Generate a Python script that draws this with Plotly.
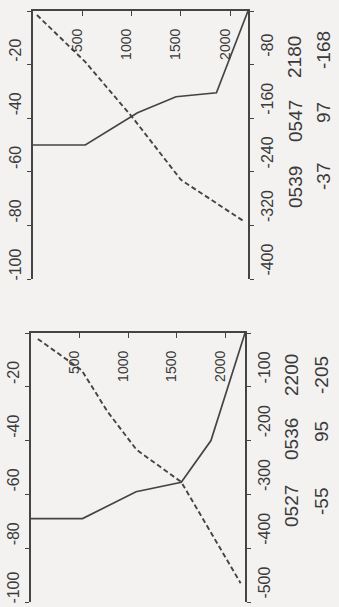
import plotly.graph_objects as go

W, H = 339, 607

# ---- data ----
top_solid_depth = [0, 530, 1060, 1450, 1860, 2000, 2180]
top_solid = [-50, -50, -38, -32, -30.5, -17, 0]
top_dash_depth = [40, 530, 1015, 1500, 2150]
top_dash = [-6, -76, -160, -252, -315]

bot_solid_depth = [0, 530, 1080, 1545, 1850, 2200]
bot_solid = [-69, -69, -59, -55.5, -40, 0]
bot_dash_depth = [70, 520, 790, 1085, 1545, 2155]
bot_dash = [-11, -69, -147, -217, -277, -465]

depth_ticks = [500, 1000, 1500, 2000]
left_ticks = [-100, -80, -60, -40, -20, 0]
left_text = ["-100", "-80", "-60", "-40", "-20", ""]
top_right_ticks = [-400, -320, -240, -160, -80, 0]
top_right_text = ["-400", "-320", "-240", "-160", "-80", ""]
bot_right_ticks = [-500, -400, -300, -200, -100, 0]
bot_right_text = ["-500", "-400", "-300", "-200", "-100", ""]

top_ids = ["0539", "0547", "2180"]
top_vals = ["-37", "97", "-168"]
bot_ids = ["0527", "0536", "2200"]
bot_vals = ["-55", "95", "-205"]

INK = "#444444"
TXT = "#3a3a3a"
BG = "#f3f2f0"
FONT = "Liberation Sans"

def px(x):
    return x / W

def py(y):
    return 1 - y / H

fig = go.Figure()
solid = dict(color=INK, width=1.7)
dashed = dict(color=INK, width=1.9, dash="5px,3px")
fig.add_trace(go.Scatter(x=top_solid_depth, y=top_solid, mode="lines", line=solid, xaxis="x", yaxis="y"))
fig.add_trace(go.Scatter(x=top_dash_depth, y=top_dash, mode="lines", line=dashed, xaxis="x", yaxis="y2"))
fig.add_trace(go.Scatter(x=bot_solid_depth, y=bot_solid, mode="lines", line=solid, xaxis="x2", yaxis="y3"))
fig.add_trace(go.Scatter(x=bot_dash_depth, y=bot_dash, mode="lines", line=dashed, xaxis="x2", yaxis="y4"))

def xaxis(dom, anchor, maxd):
    return dict(domain=dom, anchor=anchor, range=[0, maxd], side="top", automargin=False,
                showline=True, linecolor=INK, linewidth=1.7, showgrid=False, zeroline=False,
                ticks="inside", ticklen=5, tickwidth=1.4, tickcolor=INK,
                tickvals=depth_ticks, ticklabelposition="inside", tickangle=-90,
                ticklabelshift=-5, ticklabelstandoff=5, ticklabeloverflow="allow",
                tickfont=dict(family=FONT, size=14, color=TXT))

def yaxis(dom, anchor, rng, vals, text, side, shift, overlay=None):
    d = dict(domain=dom, anchor=anchor, range=rng, side=side, automargin=False,
             showline=True, linecolor=INK, linewidth=1.7, showgrid=False, zeroline=False,
             ticks="outside", ticklen=4, tickwidth=1.4, tickcolor=INK,
             tickvals=vals, ticktext=text, tickangle=-90, ticklabelshift=shift,
             ticklabelstandoff=0, ticklabeloverflow="allow",
             tickfont=dict(family=FONT, size=16, color=TXT))
    if overlay:
        d["overlaying"] = overlay
    return d

top_xdom = [px(33), px(248)]
top_ydom = [py(279), py(11)]
bot_xdom = [px(31), px(245)]
bot_ydom = [py(602), py(333)]

fig.update_layout(
    width=W, height=H, margin=dict(l=0, r=0, t=0, b=0),
    paper_bgcolor=BG, plot_bgcolor=BG, showlegend=False,
    xaxis=xaxis(top_xdom, "y", 2180),
    yaxis=yaxis(top_ydom, "x", [-100, 0], left_ticks, left_text, "left", -12),
    yaxis2=yaxis(top_ydom, "x", [-400, 0], top_right_ticks, top_right_text, "right", -17, "y"),
    xaxis2=xaxis(bot_xdom, "y3", 2200),
    yaxis3=yaxis(bot_ydom, "x2", [-100, 0], left_ticks, left_text, "left", -12),
    yaxis4=yaxis(bot_ydom, "x2", [-500, 0], bot_right_ticks, bot_right_text, "right", -17, "y3"),
)

afont = dict(family=FONT, size=19, color=TXT)
top_id_y = [187, 121, 57]
top_val_y = [177, 113, 50]
bot_id_y = [506, 439, 375]
bot_val_y = [502, 432, 375]
for t, yy in zip(top_ids, top_id_y):
    fig.add_annotation(text=t, x=px(295), y=py(yy), xref="paper", yref="paper", showarrow=False,
                       textangle=-90, xanchor="center", yanchor="middle", font=afont)
for t, yy in zip(top_vals, top_val_y):
    fig.add_annotation(text=t, x=px(323), y=py(yy), xref="paper", yref="paper", showarrow=False,
                       textangle=-90, xanchor="center", yanchor="middle", font=afont)
for t, yy in zip(bot_ids, bot_id_y):
    fig.add_annotation(text=t, x=px(291), y=py(yy), xref="paper", yref="paper", showarrow=False,
                       textangle=-90, xanchor="center", yanchor="middle", font=afont)
for t, yy in zip(bot_vals, bot_val_y):
    fig.add_annotation(text=t, x=px(321), y=py(yy), xref="paper", yref="paper", showarrow=False,
                       textangle=-90, xanchor="center", yanchor="middle", font=afont)

fig.write_html(
    "out.html",
    config={"displayModeBar": False},
    post_script="document.body.style.margin='0';document.body.style.background='%s';" % BG,
)
